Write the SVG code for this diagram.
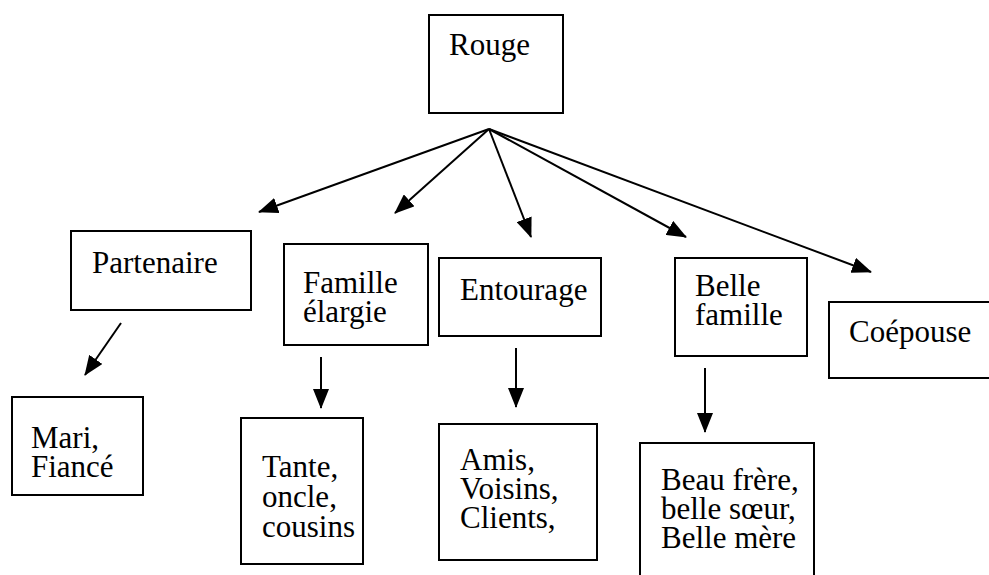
<svg xmlns="http://www.w3.org/2000/svg" width="989" height="575" viewBox="0 0 989 575">
  <style>
    .box { fill: #ffffff; stroke: #000000; stroke-width: 2; }
    .lbl { font-family: "Liberation Serif", "Times New Roman", serif; font-size: 31px; fill: #000000; }
    .edge { stroke: #000000; stroke-width: 2; fill: none; marker-end: url(#head); }
  </style>
  <defs>
    <!-- filled triangular arrowhead shared by all connectors -->
    <marker id="head" markerWidth="20" markerHeight="16" refX="19" refY="8" orient="auto" markerUnits="userSpaceOnUse">
      <polygon points="0,0 20,8 0,16" fill="#000000"/>
    </marker>
  </defs>
  <rect width="989" height="575" fill="#ffffff"/>

  <g id="edges">
    <!-- fan-out from Rouge -->
    <line class="edge" x1="489" y1="129" x2="259" y2="212"/>
    <line class="edge" x1="489" y1="129" x2="395" y2="213"/>
    <line class="edge" x1="489" y1="129" x2="531" y2="237"/>
    <line class="edge" x1="489" y1="129" x2="686" y2="237"/>
    <line class="edge" x1="489" y1="129" x2="871" y2="272"/>
    <!-- second level -->
    <line class="edge" x1="121" y1="323" x2="85" y2="375"/>
    <line class="edge" x1="321" y1="357" x2="321" y2="408"/>
    <line class="edge" x1="516" y1="348" x2="516" y2="407"/>
    <line class="edge" x1="705" y1="368" x2="705" y2="432"/>
  </g>

  <g id="rouge">
    <rect class="box" x="429" y="15" width="134" height="98"/>
    <text class="lbl" x="449" y="55">Rouge</text>
  </g>

  <g id="partenaire">
    <rect class="box" x="71" y="231" width="180" height="79"/>
    <text class="lbl" x="92" y="273">Partenaire</text>
  </g>

  <g id="famille-elargie">
    <rect class="box" x="284" y="244" width="144" height="101"/>
    <text class="lbl"><tspan x="303" y="293">Famille</tspan><tspan x="303" y="322">élargie</tspan></text>
  </g>

  <g id="entourage">
    <rect class="box" x="439" y="258" width="162" height="78"/>
    <text class="lbl" x="460" y="300">Entourage</text>
  </g>

  <g id="belle-famille">
    <rect class="box" x="675" y="258" width="132" height="98"/>
    <text class="lbl"><tspan x="695" y="296">Belle</tspan><tspan x="695" y="325">famille</tspan></text>
  </g>

  <g id="coepouse">
    <rect class="box" x="829" y="302" width="170" height="76"/>
    <text class="lbl" x="849" y="342">Coépouse</text>
  </g>

  <g id="mari-fiance">
    <rect class="box" x="12" y="397" width="131" height="98"/>
    <text class="lbl"><tspan x="31" y="448">Mari,</tspan><tspan x="31" y="477">Fiancé</tspan></text>
  </g>

  <g id="tante-oncle-cousins">
    <rect class="box" x="241" y="418" width="122" height="146"/>
    <text class="lbl"><tspan x="262" y="477">Tante,</tspan><tspan x="262" y="507">oncle,</tspan><tspan x="262" y="537">cousins</tspan></text>
  </g>

  <g id="amis-voisins-clients">
    <rect class="box" x="439" y="424" width="158" height="136"/>
    <text class="lbl"><tspan x="460" y="470">Amis,</tspan><tspan x="460" y="499">Voisins,</tspan><tspan x="460" y="528">Clients,</tspan></text>
  </g>

  <g id="beau-frere-belle-soeur-belle-mere">
    <rect class="box" x="640" y="443" width="174" height="140"/>
    <text class="lbl"><tspan x="661" y="490">Beau frère,</tspan><tspan x="661" y="519">belle sœur,</tspan><tspan x="661" y="548">Belle mère</tspan></text>
  </g>
</svg>
